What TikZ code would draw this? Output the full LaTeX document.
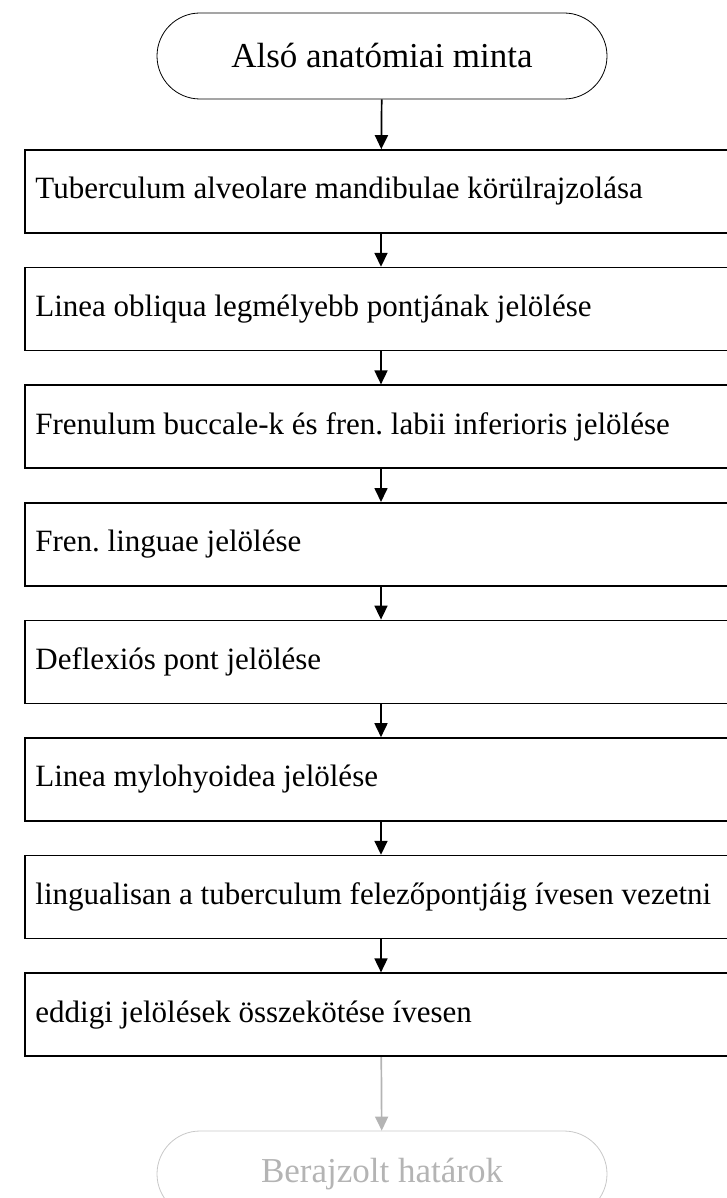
\documentclass[tikz,border=0pt]{standalone}
\usepackage{fontspec}
\setmainfont{Liberation Serif}
\frenchspacing
\usetikzlibrary{arrows.meta}
\definecolor{fadegray}{HTML}{B4B4B4}
\definecolor{fadeborder}{HTML}{C8C8C8}
\tikzset{
  stepbox/.style={draw=black, line width=1.6pt, rectangle, minimum width=712pt, minimum height=83pt,
    inner sep=0pt},
  steptext/.style={anchor=west, xshift=11pt, inner sep=0pt, font=\fontsize{31}{37}\selectfont},
  term/.style={draw=black, line width=0.8pt, rectangle, rounded corners=43pt, minimum width=450pt,
    minimum height=86pt, inner sep=0pt, font=\fontsize{35}{40}\selectfont},
  fadeterm/.style={term, draw=fadeborder, text=fadegray},
  conn/.style={line width=1.7pt, -{Triangle[length=14pt,width=13pt]}},
  fadeconn/.style={conn, draw=fadegray, -{Triangle[length=14pt,width=13pt,fill=fadegray]}}
}
\begin{document}
\begin{tikzpicture}
\useasboundingbox (0pt,0pt) rectangle (727pt,-1198pt);
\node[term] (start) at (382pt,-56pt) {Alsó anatómiai minta};
\node[stepbox] (b1) at (381pt,-191.5pt) {};
\node[stepbox] (b2) at (381pt,-309.1pt) {};
\node[stepbox] (b3) at (381pt,-426.7pt) {};
\node[stepbox] (b4) at (381pt,-544.3pt) {};
\node[stepbox] (b5) at (381pt,-661.9pt) {};
\node[stepbox] (b6) at (381pt,-779.5pt) {};
\node[stepbox] (b7) at (381pt,-897.1pt) {};
\node[stepbox] (b8) at (381pt,-1014.7pt) {};
\node[steptext] (t1) at (b1.west) {Tuberculum alveolare mandibulae körülrajzolása};
\node[steptext] (t2) at (b2.west) {Linea obliqua legmélyebb pontjának jelölése};
\node[steptext] (t3) at (b3.west) {Frenulum buccale-k és fren. labii inferioris jelölése};
\node[steptext] (t4) at (b4.west) {Fren. linguae jelölése};
\node[steptext] (t5) at (b5.west) {Deflexiós pont jelölése};
\node[steptext] (t6) at (b6.west) {Linea mylohyoidea jelölése};
\node[steptext] (t7) at (b7.west) {lingualisan a tuberculum felezőpontjáig ívesen vezetni};
\node[steptext] (t8) at (b8.west) {eddigi jelölések összekötése ívesen};
\node[fadeterm] (end) at (382pt,-1174pt) {Berajzolt határok};
\draw[conn] (start) -- (b1);
\draw[conn] (b1) -- (b2);
\draw[conn] (b2) -- (b3);
\draw[conn] (b3) -- (b4);
\draw[conn] (b4) -- (b5);
\draw[conn] (b5) -- (b6);
\draw[conn] (b6) -- (b7);
\draw[conn] (b7) -- (b8);
\draw[fadeconn] (b8) -- (end);
\end{tikzpicture}
\end{document}
